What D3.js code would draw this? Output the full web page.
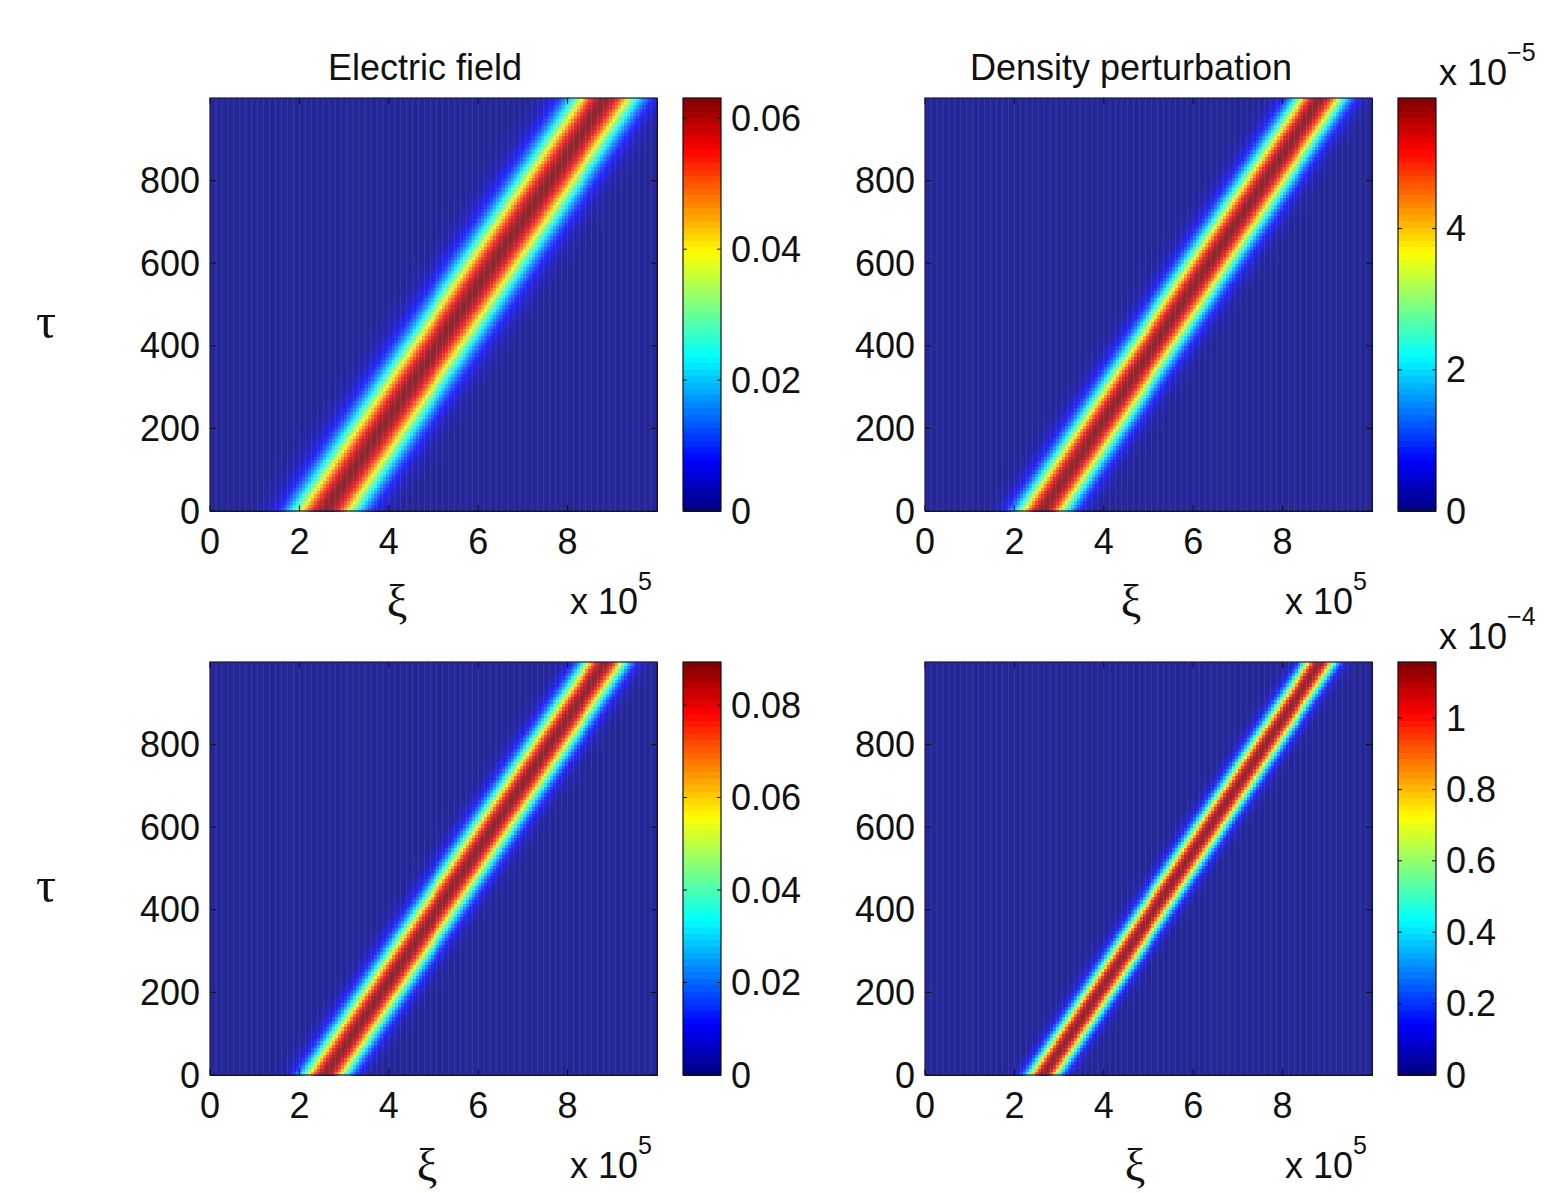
<!DOCTYPE html>
<html>
<head>
<meta charset="utf-8">
<script src="https://cdn.jsdelivr.net/npm/d3@7"></script>
<style>
    body { margin: 0; background: #fff; }
    text { font-family: "Liberation Sans", Arial, sans-serif; fill: #111; }
    .greek { font-family: "Liberation Serif", "DejaVu Serif", serif; }
</style>
</head>
<body>
<svg id="chart"></svg>
<script>
// ===== DATA =====
const panelTitles = ['Electric field', 'Density perturbation', '', ''];
const xiTicks     = [0, 2, 4, 6, 8];            // ξ in units of 10^5
const tauTicks    = [0, 200, 400, 600, 800];
const xiRange     = [0, 10];
const tauRange    = [0, 1000];

// pulse centre (ξ / 10^5) read at τ = 0 and τ = 1000, horizontal width, peak
const centreStart = [2.57, 2.62, 2.57, 2.64];
const centreEnd   = [8.84, 8.84, 8.84, 8.84];
const pulseWidth  = [0.53, 0.41, 0.36, 0.26];
const peakValue   = [0.0631, 5.85, 0.0893, 1.157];   // in colourbar units

const colorbarTicks = [
    [0, 0.02, 0.04, 0.06],
    [0, 2, 4],
    [0, 0.02, 0.04, 0.06, 0.08],
    [0, 0.2, 0.4, 0.6, 0.8, 1]
];
const colorbarExp = [null, '\u22125', null, '\u22124'];


// ===== LAYOUT =====
const W = 1544, H = 1193;
const plotW = 447, plotH = 413;
const cbGap = 26, cbW = 38;
const panelPos = [
    { x: 210, y: 98 },  { x: 925, y: 98 },
    { x: 210, y: 662 }, { x: 925, y: 662 }
];
const titleX = [425, 1131, null, null];
const xiLabelX = [397, 1131, 427, 1135];
const NX = 150, NY = 120;   // grid of the field

const svg = d3.select('#chart').attr('width', W).attr('height', H);
svg.append('rect').attr('width', W).attr('height', H).attr('fill', '#fff');

// MATLAB-style jet colormap
function jet(t) {
    const c = v => Math.round(255 * Math.max(0, Math.min(1, v)));
    return `rgb(${c(1.5 - Math.abs(4 * t - 3))},${c(1.5 - Math.abs(4 * t - 2))},${c(1.5 - Math.abs(4 * t - 1))})`;
}

panelPos.forEach((p, i) => {
    const g = svg.append('g').attr('transform', `translate(${p.x},${p.y})`);

    const x = d3.scaleLinear().domain(xiRange).range([0, plotW]);
    const y = d3.scaleLinear().domain(tauRange).range([plotH, 0]);
    const colour = d3.scaleSequential(jet).domain([0, peakValue[i]]);

    // field cells
    const dx = (xiRange[1] - xiRange[0]) / NX;
    const dy = (tauRange[1] - tauRange[0]) / NY;
    const cells = [];
    for (let r = 0; r < NY; r++) {
        const tau = tauRange[0] + (r + 0.5) * dy;
        const c = centreStart[i] + (centreEnd[i] - centreStart[i]) * tau / tauRange[1];
        for (let k = 0; k < NX; k++) {
            const xi = xiRange[0] + (k + 0.5) * dx;
            const d = (xi - c) / pulseWidth[i];
            cells.push({ xi0: xi - dx / 2, tau0: tau - dy / 2, v: peakValue[i] * Math.exp(-d * d / 2) });
        }
    }
    g.append('g')
        .attr('shape-rendering', 'crispEdges')
        .selectAll('rect')
        .data(cells)
        .enter().append('rect')
        .attr('x', d => x(d.xi0))
        .attr('y', d => y(d.tau0 + dy))
        .attr('width', x(dx) - x(0) + 0.6)
        .attr('height', y(0) - y(dy) + 0.6)
        .attr('fill', d => colour(d.v));

    // washed-out mesh look of the original
    g.append('rect')
        .attr('width', plotW).attr('height', plotH)
        .attr('fill', '#ccd2ff').attr('opacity', 0.18);
    g.append('g')
        .selectAll('line')
        .data(d3.range(0, NX, 2))
        .enter().append('line')
        .attr('x1', k => x(k * dx)).attr('x2', k => x(k * dx))
        .attr('y1', 0).attr('y2', plotH)
        .attr('stroke', '#c8ccff').attr('stroke-width', 1).attr('opacity', 0.12);

    // frame and inward ticks
    g.append('rect')
        .attr('width', plotW).attr('height', plotH)
        .attr('fill', 'none').attr('stroke', '#1a1a40').attr('stroke-width', 1.2);

    const tickLen = 6;
    xiTicks.forEach(v => {
        g.append('line').attr('x1', x(v)).attr('x2', x(v)).attr('y1', plotH).attr('y2', plotH - tickLen)
            .attr('stroke', '#111');
        g.append('line').attr('x1', x(v)).attr('x2', x(v)).attr('y1', 0).attr('y2', tickLen)
            .attr('stroke', '#111');
        g.append('text').attr('x', x(v)).attr('y', plotH + 30)
            .attr('text-anchor', 'middle').attr('dominant-baseline', 'central')
            .attr('font-size', 36).text(v);
    });
    tauTicks.forEach(v => {
        g.append('line').attr('x1', 0).attr('x2', tickLen).attr('y1', y(v)).attr('y2', y(v))
            .attr('stroke', '#111');
        g.append('line').attr('x1', plotW).attr('x2', plotW - tickLen).attr('y1', y(v)).attr('y2', y(v))
            .attr('stroke', '#111');
        g.append('text').attr('x', -10).attr('y', y(v))
            .attr('text-anchor', 'end').attr('dominant-baseline', 'central')
            .attr('font-size', 36).text(v);
    });

    // labels
    if (panelTitles[i]) {
        svg.append('text').attr('x', titleX[i]).attr('y', p.y - 18)
            .attr('text-anchor', 'middle').attr('font-size', 36).text(panelTitles[i]);
    }
    if (i % 2 === 0) {
        svg.append('text').attr('class', 'greek').attr('x', 46).attr('y', p.y + 240)
            .attr('text-anchor', 'middle').attr('font-size', 50).text('\u03c4');
    }
    svg.append('text').attr('class', 'greek').attr('x', xiLabelX[i]).attr('y', p.y + plotH + 106)
        .attr('text-anchor', 'middle').attr('font-size', 46).text('\u03be');

    const mult = g.append('text').attr('x', 360).attr('y', plotH + 103).attr('font-size', 36);
    mult.append('tspan').text('x 10');
    mult.append('tspan').attr('dy', -24).attr('font-size', 25).text('5');

    // colourbar
    const cb = g.append('g').attr('transform', `translate(${plotW + cbGap},0)`);
    const cy = d3.scaleLinear().domain([0, peakValue[i]]).range([plotH, 0]);
    const steps = d3.range(64);
    cb.append('g')
        .attr('shape-rendering', 'crispEdges')
        .selectAll('rect')
        .data(steps)
        .enter().append('rect')
        .attr('x', 0).attr('width', cbW)
        .attr('y', s => cy((s + 1) * peakValue[i] / 64))
        .attr('height', s => cy(s * peakValue[i] / 64) - cy((s + 1) * peakValue[i] / 64) + 0.6)
        .attr('fill', s => colour((s + 0.5) * peakValue[i] / 64));
    cb.append('rect').attr('width', cbW).attr('height', plotH)
        .attr('fill', 'none').attr('stroke', '#111').attr('stroke-width', 1.2);
    colorbarTicks[i].forEach(v => {
        cb.append('line').attr('x1', 0).attr('x2', 4).attr('y1', cy(v)).attr('y2', cy(v)).attr('stroke', '#111');
        cb.append('line').attr('x1', cbW).attr('x2', cbW - 4).attr('y1', cy(v)).attr('y2', cy(v)).attr('stroke', '#111');
        cb.append('text').attr('x', cbW + 10).attr('y', cy(v))
            .attr('dominant-baseline', 'central').attr('font-size', 36).text(v);
    });
    if (colorbarExp[i]) {
        const e = cb.append('text').attr('x', cbW + 3).attr('y', -13).attr('font-size', 36);
        e.append('tspan').text('x 10');
        e.append('tspan').attr('dy', -24).attr('font-size', 25).text(colorbarExp[i]);
    }
});
</script>
</body>
</html>
